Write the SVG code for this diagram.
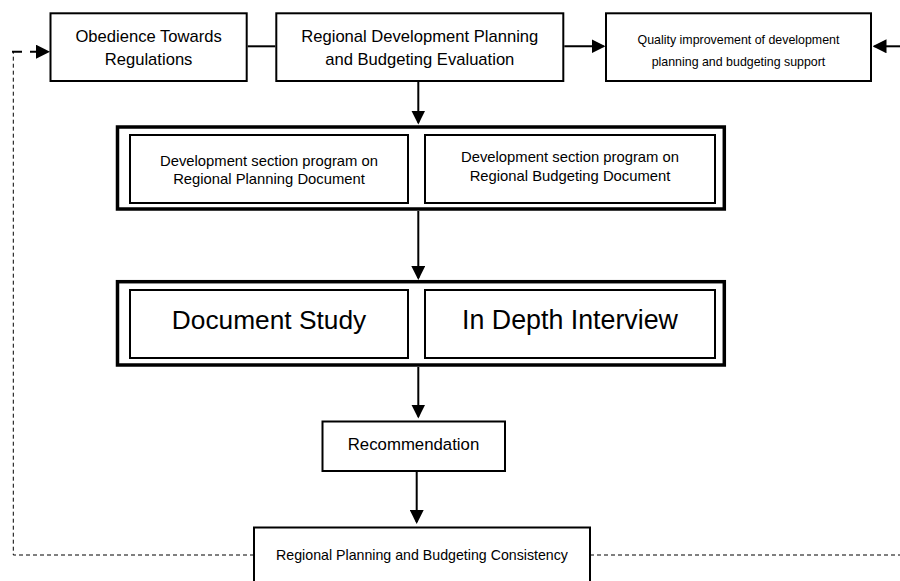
<svg xmlns="http://www.w3.org/2000/svg" width="900" height="581" viewBox="0 0 900 581">
  <style>
    .box { fill: #fff; stroke: #000; stroke-width: 2; }
    .outer { fill: #fff; stroke: #000; stroke-width: 3.5; }
    .t { font-family: "Liberation Sans", Arial, sans-serif; fill: #000; text-anchor: middle; }
    .conn { stroke: #000; stroke-width: 2; fill: none; }
    .dash { stroke: #000; stroke-width: 1; fill: none; stroke-dasharray: 4 3; }
  </style>
  <defs>
    <marker id="arrow" markerUnits="userSpaceOnUse" markerWidth="14" markerHeight="14" refX="12" refY="7" orient="auto">
      <path d="M0,0 L14,7 L0,14 z" fill="#000"/>
    </marker>
  </defs>
  <rect width="900" height="581" fill="#fff"/>

  <g id="connectors">
    <line class="conn" x1="247.7" y1="46.3" x2="275.3" y2="46.3"/>
    <line class="conn" x1="564.3" y1="46.3" x2="603.5" y2="46.3" marker-end="url(#arrow)"/>
    <line class="conn" x1="900" y1="46.3" x2="874.5" y2="46.3" marker-end="url(#arrow)"/>
    <line class="conn" x1="418.3" y1="82" x2="418.3" y2="122.5" marker-end="url(#arrow)"/>
    <line class="conn" x1="418.3" y1="211" x2="418.3" y2="278" marker-end="url(#arrow)"/>
    <line class="conn" x1="418.3" y1="367" x2="418.3" y2="416.5" marker-end="url(#arrow)"/>
    <line class="conn" x1="416.7" y1="472" x2="416.7" y2="522" marker-end="url(#arrow)"/>
    <path class="dash" d="M254,555 H13.3 V52"/>
    <line class="conn" x1="12" y1="51.7" x2="48" y2="51.7" stroke-dasharray="10 8" marker-end="url(#arrow)"/>
    <line class="dash" x1="590" y1="555" x2="900" y2="555"/>
  </g>

  <g id="obedience">
    <rect class="box" x="50.5" y="13.3" width="196.2" height="67.7"/>
    <text class="t" font-size="16.6" x="148.6" y="42.3">Obedience Towards</text>
    <text class="t" font-size="16.6" x="148.6" y="65">Regulations</text>
  </g>

  <g id="evaluation">
    <rect class="box" x="276.3" y="13.3" width="287" height="67.7"/>
    <text class="t" font-size="16.6" x="419.8" y="42.3">Regional Development Planning</text>
    <text class="t" font-size="16.6" x="419.8" y="65">and Budgeting Evaluation</text>
  </g>

  <g id="quality">
    <rect class="box" x="606" y="13.3" width="265" height="67.7"/>
    <text class="t" font-size="12.4" x="738.5" y="44.3">Quality improvement of development</text>
    <text class="t" font-size="12.4" x="738.5" y="65.5">planning and budgeting support</text>
  </g>

  <g id="programs">
    <rect class="outer" x="117.5" y="127" width="606.8" height="82"/>
    <g id="planning-doc">
      <rect class="box" x="130" y="135" width="278" height="68"/>
      <text class="t" font-size="14.8" x="269" y="166">Development section program on</text>
      <text class="t" font-size="14.8" x="269" y="184.3">Regional Planning Document</text>
    </g>
    <g id="budgeting-doc">
      <rect class="box" x="425" y="135" width="290" height="68"/>
      <text class="t" font-size="14.8" x="570" y="161.7">Development section program on</text>
      <text class="t" font-size="14.8" x="570" y="180.7">Regional Budgeting Document</text>
    </g>
  </g>

  <g id="methods">
    <rect class="outer" x="117.5" y="281.7" width="606.8" height="83.3"/>
    <g id="document-study">
      <rect class="box" x="130" y="290" width="278" height="68"/>
      <text class="t" font-size="26.3" x="269" y="329.3">Document Study</text>
    </g>
    <g id="interview">
      <rect class="box" x="425" y="290" width="290" height="68"/>
      <text class="t" font-size="26.8" x="570" y="329.3">In Depth Interview</text>
    </g>
  </g>

  <g id="recommendation">
    <rect class="box" x="322.5" y="421.5" width="182.5" height="49.5"/>
    <text class="t" font-size="16.8" x="413.5" y="450">Recommendation</text>
  </g>

  <g id="consistency">
    <rect class="box" x="254" y="527.5" width="336" height="70"/>
    <text class="t" font-size="14.2" x="422" y="560">Regional Planning and Budgeting Consistency</text>
  </g>
</svg>
